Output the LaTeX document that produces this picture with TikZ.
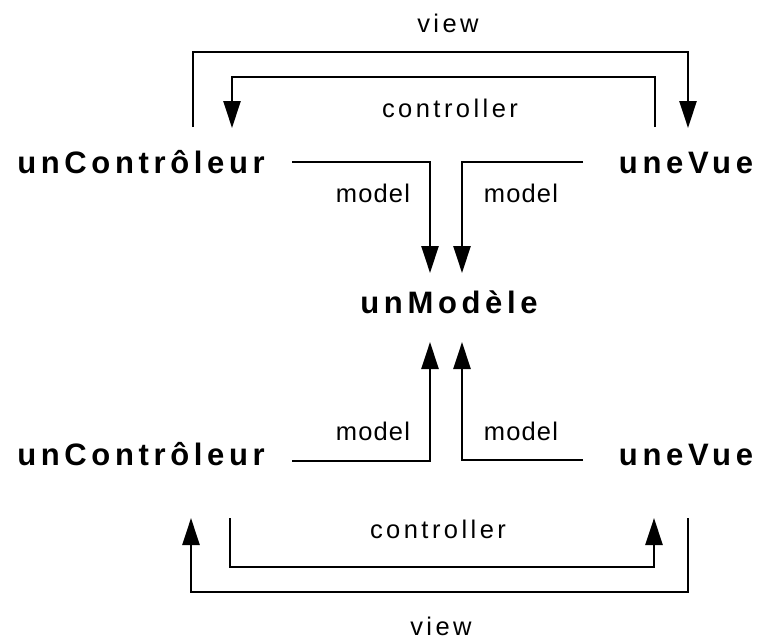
\documentclass[tikz,border=0pt]{standalone}
\usepackage{fontspec}
\setmainfont{Liberation Sans}
\newfontfamily\boldlab[LetterSpace=15]{Liberation Sans Bold}
\newfontfamily\widelab[LetterSpace=13.5]{Liberation Sans}
\newfontfamily\narrowlab[LetterSpace=4.5]{Liberation Sans}
\usetikzlibrary{arrows.meta}
\begin{document}
\begin{tikzpicture}[x=1pt,y=-1pt,
  obj/.style={inner sep=0pt,anchor=base,font=\boldlab\fontsize{31}{31}\selectfont},
  lab/.style={inner sep=0pt,anchor=base,font=\widelab\fontsize{25.5}{25.5}\selectfont},
  mlab/.style={inner sep=0pt,anchor=base,font=\narrowlab\fontsize{25.5}{25.5}\selectfont},
  conn/.style={line width=2.8pt,line cap=butt,line join=miter},
  arr/.style={conn,-{Triangle[width=17pt,length=27pt]}}]
\useasboundingbox (0,0) rectangle (764,640);
% objects
\node[obj] (cTop) at (141,173) {unContrôleur};
\node[obj] (vTop) at (686,173) {uneVue};
\node[obj] (mod) at (449,313) {unModèle};
\node[obj] (cBot) at (141,465) {unContrôleur};
\node[obj] (vBot) at (686,465) {uneVue};
% labels
\node[lab] (lViewT) at (448,32) {view};
\node[lab] (lCtrlT) at (450,117) {controller};
\node[mlab] (lModTL) at (373,202) {model};
\node[mlab] (lModTR) at (521,202) {model};
\node[mlab] (lModBL) at (373,440) {model};
\node[mlab] (lModBR) at (521,440) {model};
\node[lab] (lCtrlB) at (438,538) {controller};
\node[lab] (lViewB) at (441,635) {view};
% connector ends
\coordinate (vtS) at (193,127);
\coordinate (vtE) at (688,128);
\coordinate (ctS) at (655,127);
\coordinate (ctE) at (232,128);
\coordinate (mtlS) at (292,162);
\coordinate (mtlE) at (430,273);
\coordinate (mtrS) at (583,162);
\coordinate (mtrE) at (462,273);
\coordinate (mblS) at (292,461);
\coordinate (mblE) at (430,342);
\coordinate (mbrS) at (583,460);
\coordinate (mbrE) at (462,342);
\coordinate (cbS) at (230,518);
\coordinate (cbE) at (654,518);
\coordinate (vbS) at (688,518);
\coordinate (vbE) at (191,518);
% top
\draw[arr] (vtS) -- ++(0,-75) -| (vtE);
\draw[arr] (ctS) -- ++(0,-50) -| (ctE);
\draw[arr] (mtlS) -| (mtlE);
\draw[arr] (mtrS) -| (mtrE);
% bottom
\draw[arr] (mblS) -| (mblE);
\draw[arr] (mbrS) -| (mbrE);
\draw[arr] (cbS) -- ++(0,49) -| (cbE);
\draw[arr] (vbS) -- ++(0,74) -| (vbE);
\end{tikzpicture}
\end{document}
